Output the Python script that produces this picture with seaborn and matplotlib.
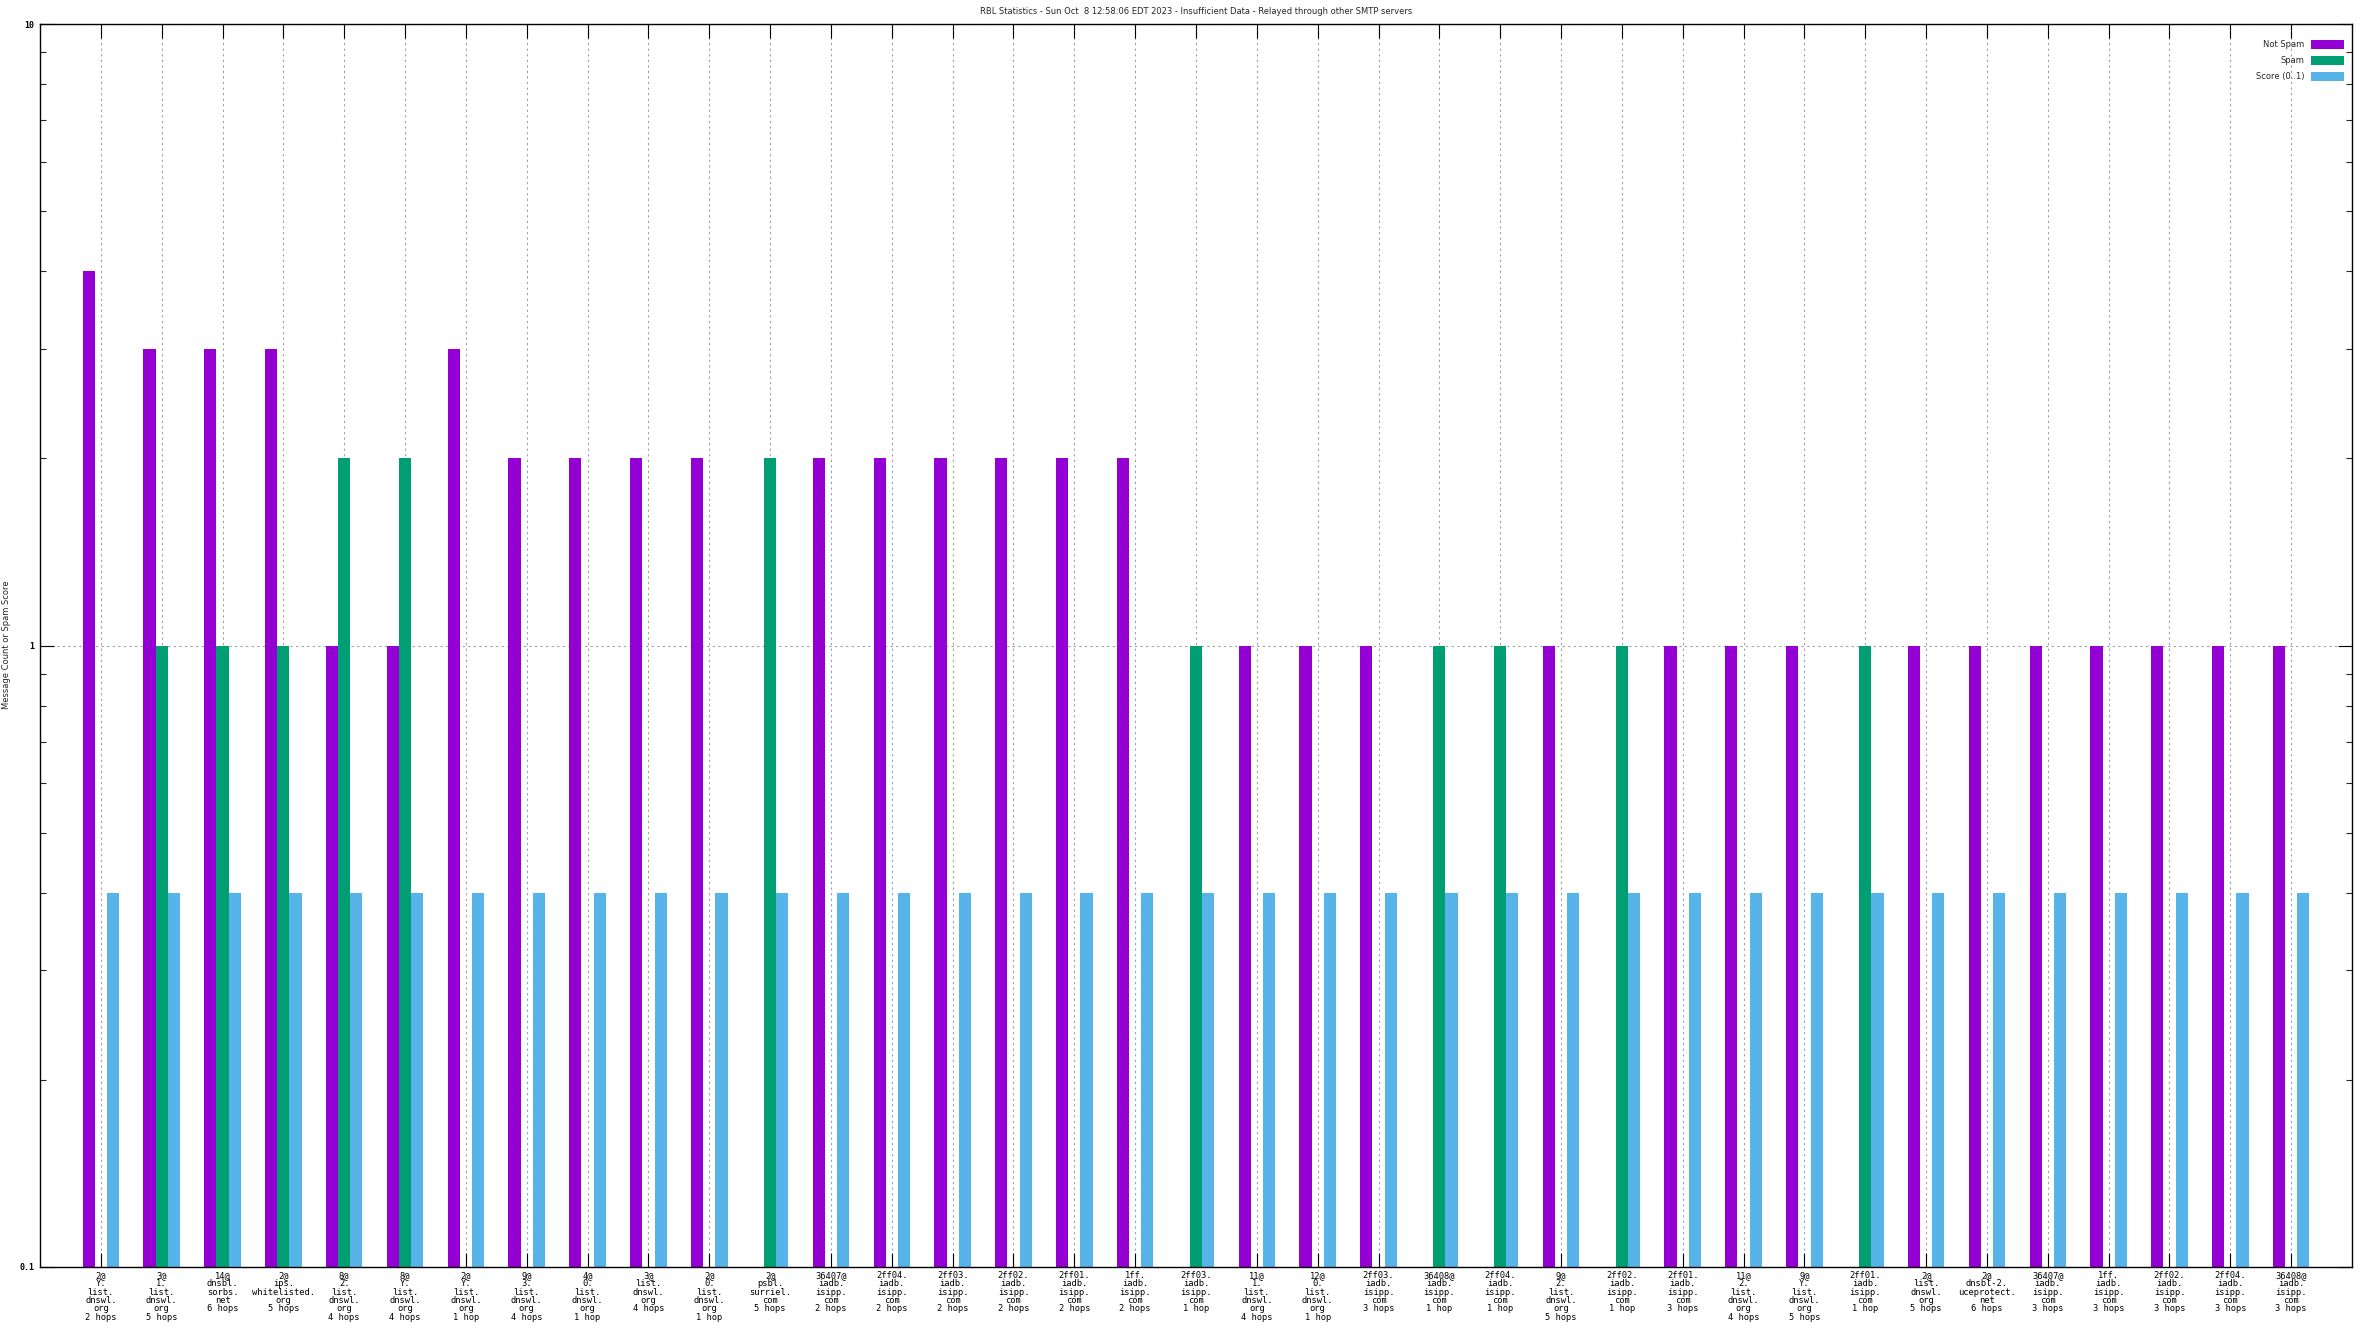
import matplotlib
matplotlib.use("Agg")
import matplotlib.pyplot as plt
import seaborn as sns
import pandas as pd
import numpy as np
from matplotlib.patches import Patch
from matplotlib.ticker import LogLocator, NullFormatter

categories = [
    "2@\nY.\nlist.\ndnswl.\norg\n2 hops",
    "3@\n1.\nlist.\ndnswl.\norg\n5 hops",
    "14@\ndnsbl.\nsorbs.\nnet\n6 hops",
    "2@\nips.\nwhitelisted.\norg\n5 hops",
    "8@\n2.\nlist.\ndnswl.\norg\n4 hops",
    "8@\nY.\nlist.\ndnswl.\norg\n4 hops",
    "2@\nY.\nlist.\ndnswl.\norg\n1 hop",
    "9@\n3.\nlist.\ndnswl.\norg\n4 hops",
    "4@\n0.\nlist.\ndnswl.\norg\n1 hop",
    "3@\nlist.\ndnswl.\norg\n4 hops",
    "2@\n0.\nlist.\ndnswl.\norg\n1 hop",
    "2@\npsbl.\nsurriel.\ncom\n5 hops",
    "36407@\niadb.\nisipp.\ncom\n2 hops",
    "2ff04.\niadb.\nisipp.\ncom\n2 hops",
    "2ff03.\niadb.\nisipp.\ncom\n2 hops",
    "2ff02.\niadb.\nisipp.\ncom\n2 hops",
    "2ff01.\niadb.\nisipp.\ncom\n2 hops",
    "1ff.\niadb.\nisipp.\ncom\n2 hops",
    "2ff03.\niadb.\nisipp.\ncom\n1 hop",
    "11@\n1.\nlist.\ndnswl.\norg\n4 hops",
    "12@\n0.\nlist.\ndnswl.\norg\n1 hop",
    "2ff03.\niadb.\nisipp.\ncom\n3 hops",
    "36408@\niadb.\nisipp.\ncom\n1 hop",
    "2ff04.\niadb.\nisipp.\ncom\n1 hop",
    "9@\n2.\nlist.\ndnswl.\norg\n5 hops",
    "2ff02.\niadb.\nisipp.\ncom\n1 hop",
    "2ff01.\niadb.\nisipp.\ncom\n3 hops",
    "11@\n2.\nlist.\ndnswl.\norg\n4 hops",
    "9@\nY.\nlist.\ndnswl.\norg\n5 hops",
    "2ff01.\niadb.\nisipp.\ncom\n1 hop",
    "2@\nlist.\ndnswl.\norg\n5 hops",
    "2@\ndnsbl-2.\nuceprotect.\nnet\n6 hops",
    "36407@\niadb.\nisipp.\ncom\n3 hops",
    "1ff.\niadb.\nisipp.\ncom\n3 hops",
    "2ff02.\niadb.\nisipp.\ncom\n3 hops",
    "2ff04.\niadb.\nisipp.\ncom\n3 hops",
    "36408@\niadb.\nisipp.\ncom\n3 hops",
]

not_spam = [4, 3, 3, 3, 1, 1, 3, 2, 2, 2, 2, 0, 2, 2, 2, 2, 2, 2, 0,
            1, 1, 1, 0, 0, 1, 0, 1, 1, 1, 0, 1, 1, 1, 1, 1, 1, 1]
spam = [0, 1, 1, 1, 2, 2, 0, 0, 0, 0, 0, 2, 0, 0, 0, 0, 0, 0, 1,
        0, 0, 0, 1, 1, 0, 1, 0, 0, 0, 1, 0, 0, 0, 0, 0, 0, 0]
score = [0.4] * 37

series_names = ["Not Spam", "Spam", "Score (0..1)"]
colors = ["#9400D3", "#009E73", "#56B4E9"]

rows = []
for i, c in enumerate(categories):
    for name, vals in zip(series_names, [not_spam, spam, score]):
        if vals[i] > 0:
            rows.append({"cat": c, "series": name, "value": vals[i]})
df = pd.DataFrame(rows)

sns.set_theme(style="white")
plt.rcParams["font.family"] = ["DejaVu Sans"]

W, H = 2368, 1332
fig = plt.figure(figsize=(W / 100, H / 100), dpi=100)
left, right, top, bottom = 40, 2352, 24, 1267
ax = fig.add_axes([left / W, 1 - bottom / H, (right - left) / W, (bottom - top) / H])

sns.barplot(data=df, x="cat", y="value", hue="series", order=categories,
            hue_order=series_names, palette=colors, width=0.6, dodge=True,
            errorbar=None, saturation=1, ax=ax, legend=False, linewidth=0,
            log_scale=(False, True))

ax.set_yscale("log")
ax.set_ylim(0.1, 10)
ax.set_xlim(-1, 37)

ax.set_yticks([0.1, 1, 10])
ax.set_yticklabels(["0.1", "1", "10"], fontfamily="DejaVu Sans Mono", fontsize=6,
                   fontweight="bold")
ax.yaxis.set_minor_locator(LogLocator(base=10, subs=np.arange(2, 10)))
ax.yaxis.set_minor_formatter(NullFormatter())

ax.set_xticks(range(len(categories)))
ax.set_xticklabels(categories, fontfamily="DejaVu Sans Mono", fontsize=6.3,
                   linespacing=0.9, va="top", ha="center")

ax.tick_params(axis="both", which="major", direction="in", length=10, width=0.8,
               colors="black", top=True, right=True, bottom=True, left=True)
ax.tick_params(axis="y", which="minor", direction="in", length=4.5, width=0.8,
               left=True, right=True)
ax.tick_params(axis="x", which="major", pad=3)
ax.tick_params(axis="y", which="major", pad=4)

ax.grid(True, axis="both", which="major", linestyle=(0, (2, 3)),
        color="#a0a0a0", linewidth=0.8)
ax.set_axisbelow(True)

for s in ax.spines.values():
    s.set_visible(True)
    s.set_color("black")
    s.set_linewidth(1.0)

ax.set_xlabel("")
ax.set_ylabel("")
fig.text(7 / W, 1 - 645 / H, "Message Count or Spam Score", rotation=90,
         fontsize=6, ha="center", va="center")

fig.text((left + right) / 2 / W, 1 - 12 / H,
         "RBL Statistics - Sun Oct  8 12:58:06 EDT 2023 - Insufficient Data - Relayed through other SMTP servers",
         fontsize=6, ha="center", va="center")

handles = [Patch(facecolor=c, edgecolor="none") for c in colors]
leg = fig.legend(handles, series_names, loc="upper right",
                 bbox_to_anchor=(2344 / W, 1 - 40 / H), frameon=False,
                 markerfirst=False, fontsize=6, handlelength=4.0,
                 handleheight=1.2, labelspacing=0.85, handletextpad=0.8,
                 borderaxespad=0, borderpad=0)

fig.savefig("out.png", dpi=100)
